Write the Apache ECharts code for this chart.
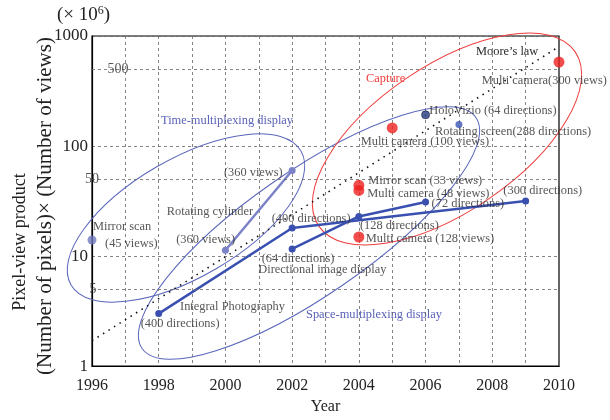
<!DOCTYPE html>
<html><head><meta charset="utf-8">
<script src="https://cdn.jsdelivr.net/npm/echarts@6/dist/echarts.min.js"></script>
<style>html,body{margin:0;padding:0;background:#fff}#c{width:610px;height:420px}</style>
</head><body><div id="c"></div>
<script>
// ---------- data ----------
const xLabelYears = [1996, 1998, 2000, 2002, 2004, 2006, 2008, 2010];
const yMajorTicks = [1, 10, 100, 1000];
const yMinorTicks = [5, 50, 500];

const ipYears = [1998, 2002, 2009];          // Integral Photography / 400 / 300 directions
const ipValues = [3, 18, 31.7];
const dirYears = [2002, 2004, 2006];         // Directional image display 64 / 128 / 72 directions
const dirValues = [11.6, 22.9, 31];
const rcYears = [2000, 2002];                // Rotating cylinder
const rcValues = [11.3, 60];
const mirrorYears = [1996];                  // Mirror scan (45 views)
const mirrorValues = [14];
const holoYears = [2006];                    // HoloVizio
const holoValues = [192];
const rsYears = [2007];                      // Rotating screen
const rsValues = [157];
const capYears = [2005, 2004, 2004, 2004, 2010];   // Capture
const capValues = [146, 44, 39.5, 14.9, 580];
const mooreYears = [1996, 2010];
const mooreValues = [1.7, 800];

// label texts per point (set, index, text)
const pointTexts = [
  ['mirror', 0, 'Mirror scan'],
  ['mirror', 0, '(45 views)'],
  ['rc', 0, 'Rotating cylinder'],
  ['rc', 0, '(360 views)'],
  ['rc', 1, '(360 views)'],
  ['ip', 1, '(400 directions)'],
  ['dir', 0, '(64 directions)'],
  ['dir', 0, 'Directional image display'],
  ['ip', 0, 'Integral Photography'],
  ['ip', 0, '(400 directions)'],
  ['dir', 1, '(128 directions)'],
  ['cap', 3, 'Multi camera (128 views)'],
  ['cap', 1, 'Mirror scan (33 views)'],
  ['cap', 2, 'Multi camera (48 views)'],
  ['dir', 2, '(72 directions)'],
  ['ip', 2, '(300 directions)'],
  ['cap', 0, 'Multi camera (100 views)'],
  ['holo', 0, 'HoloVizio (64 directions)'],
  ['rs', 0, 'Rotating screen(288 directions)'],
  ['cap', 4, 'Multi camera(300 views)']
];
// ---------- layout / style ----------
const labelPlacement = [
  [1, -13, 'left'], [13, 3.5, 'left'], [-58.7, -38.3, 'left'], [9.6, -10.6, 'right'],
  [-9.4, 2.6, 'right'], [-20.4, -9.1, 'left'], [-30.4, 9.6, 'left'], [-33.8, 20.6, 'left'],
  [21.3, -7, 'left'], [-18, 10.6, 'left'], [1.1, 9.3, 'left'], [7, 1.8, 'left'],
  [9.4, -4.2, 'left'], [8.4, 3.2, 'left'], [6, 2.2, 'left'], [-22.3, -10.1, 'left'],
  [-31.5, 14, 'left'], [3.7, -4.1, 'left'], [-23.9, 7.5, 'left'], [-77.3, 18.7, 'left']
];
const minorLabelPlacement = [[1, 0], [0, 0], [26, 0]];
const FONT = '"Liberation Serif","Times New Roman",serif';
const TXT = '#2a2a2a';
const LBL = 12.4;
const sets = {
  ip: [ipYears, ipValues], dir: [dirYears, dirValues], rc: [rcYears, rcValues],
  mirror: [mirrorYears, mirrorValues], holo: [holoYears, holoValues],
  rs: [rsYears, rsValues], cap: [capYears, capValues]
};
const pts = (xs, ys) => xs.map((x, i) => [x, ys[i]]);
const gridLine = { color: '#666', width: 0.8, type: [3, 3] };

const chart = echarts.init(document.getElementById('c'), null, { renderer: 'canvas' });

const labelData = pointTexts.map((t, k) => {
  const [set, i, text] = t;
  const [dx, dy, align] = labelPlacement[k];
  return {
    value: [sets[set][0][i], sets[set][1][i]],
    label: { show: true, formatter: text, position: 'inside', offset: [dx, dy], align: align,
      verticalAlign: 'middle', fontSize: LBL, fontFamily: FONT, color: TXT }
  };
});
const minorData = yMinorTicks.map((v, k) => ({
  value: [xLabelYears[0], v],
  label: { show: true, formatter: String(v), position: 'inside', offset: minorLabelPlacement[k],
    align: 'center', verticalAlign: 'middle', fontSize: 14, fontFamily: FONT, color: TXT }
}));

const option = {
  animation: false,
  grid: { left: 92, right: 51, top: 36, bottom: 49, show: true, borderColor: '#000', borderWidth: 1.2 },
  xAxis: {
    type: 'value', min: 1996, max: 2010, interval: 1,
    axisLine: { lineStyle: { color: '#000', width: 1.2 } },
    axisTick: { show: false },
    axisLabel: { fontSize: 16, fontFamily: FONT, color: '#222', margin: 12,
      formatter: v => xLabelYears.includes(v) ? String(v) : '', showMaxLabel: true, showMinLabel: true },
    splitLine: { show: true, lineStyle: gridLine },
    name: 'Year', nameLocation: 'middle', nameGap: 32,
    nameTextStyle: { fontSize: 16, fontFamily: FONT, color: '#222' }
  },
  yAxis: {
    type: 'log', logBase: 10, min: yMajorTicks[0], max: yMajorTicks[yMajorTicks.length - 1],
    axisLine: { show: true, lineStyle: { color: '#000', width: 1.2 } },
    axisTick: { show: false },
    axisLabel: { fontSize: 17, fontFamily: FONT, color: '#222', margin: 4, formatter: v => String(v) },
    splitLine: { show: true, lineStyle: gridLine },
    minorTick: { show: false }, minorSplitLine: { show: false }
  },
  graphic: [
    { type: 'ellipse', x: 186, y: 218, rotation: 30.2 * Math.PI / 180, shape: { cx: 0, cy: 0, rx: 133, ry: 59 },
      style: { fill: 'none', stroke: '#5a66bb', lineWidth: 1 }, silent: true, z: 1 },
    { type: 'ellipse', x: 309, y: 233, rotation: 34.7 * Math.PI / 180, shape: { cx: 0, cy: 0, rx: 203, ry: 62 },
      style: { fill: 'none', stroke: '#5a66bb', lineWidth: 1 }, silent: true, z: 1 },
    { type: 'ellipse', x: 447, y: 139, rotation: 34.2 * Math.PI / 180, shape: { cx: 0, cy: 0, rx: 155, ry: 73 },
      style: { fill: 'none', stroke: '#f03c3c', lineWidth: 1 }, silent: true, z: 1 },
    { type: 'text', left: 161, top: 115, silent: true,
      style: { text: 'Time-multiplexing display', fontSize: LBL, fontFamily: FONT, fill: '#5a62b8' } },
    { type: 'text', left: 306, top: 309, silent: true,
      style: { text: 'Space-multiplexing display', fontSize: LBL, fontFamily: FONT, fill: '#5a62b8' } },
    { type: 'text', left: 366, top: 73, silent: true,
      style: { text: 'Capture', fontSize: LBL, fontFamily: FONT, fill: '#f03c3c' } },
    { type: 'text', left: 476, top: 46, silent: true,
      style: { text: 'Moore\u2019s law', fontSize: LBL, fontFamily: FONT, fill: TXT } },
    { type: 'text', left: 57, top: 5, silent: true,
      style: { text: '{a|(\u00d7 10}{s|6}{a|)}', fontFamily: FONT, fill: '#222',
        rich: { a: { fontSize: 19, fontFamily: FONT, fill: '#222', verticalAlign: 'bottom' },
                s: { fontSize: 12, fontFamily: FONT, fill: '#222', verticalAlign: 'top', padding: [0, 0, 8, 0] } } } },
    { type: 'text', x: 20, y: 242, rotation: Math.PI / 2, silent: true,
      style: { text: 'Pixel-view product', fontSize: 18, fontFamily: FONT, fill: '#222', align: 'center', verticalAlign: 'middle' } },
    { type: 'text', x: 45, y: 206, rotation: Math.PI / 2, silent: true,
      style: { text: '(Number of pixels)\u00d7 (Number of views)', fontSize: 21, fontFamily: FONT, fill: '#222', align: 'center', verticalAlign: 'middle' } }
  ],
  series: [
    { type: 'line', name: 'Moore', data: pts(mooreYears, mooreValues), symbol: 'none', z: 2,
      lineStyle: { color: '#111', width: 1.6, type: [1.5, 5] },
      markLine: { silent: true, symbol: ['none', 'none'], label: { show: false },
        lineStyle: gridLine, data: yMinorTicks.map(v => ({ yAxis: v })) } },
    { type: 'line', name: 'ip', data: pts(ipYears, ipValues), symbol: 'circle', symbolSize: 7, z: 3,
      lineStyle: { color: '#3a50b0', width: 2.5 }, itemStyle: { color: '#3a50b0' } },
    { type: 'line', name: 'dir', data: pts(dirYears, dirValues), symbol: 'circle', symbolSize: 7, z: 3,
      lineStyle: { color: '#3a50b0', width: 2.5 }, itemStyle: { color: '#3a50b0' } },
    { type: 'line', name: 'rc', data: pts(rcYears, rcValues), symbol: 'circle', symbolSize: 7, z: 3,
      lineStyle: { color: '#7b82c8', width: 2.5 }, itemStyle: { color: '#7b82c8' } },
    { type: 'scatter', name: 'mirror', data: pts(mirrorYears, mirrorValues), symbolSize: 9, z: 3, clip: false,
      itemStyle: { color: '#7078c0' } },
    { type: 'scatter', name: 'holo', data: pts(holoYears, holoValues), symbolSize: 8, z: 3,
      itemStyle: { color: '#23397e', borderColor: '#111a44', borderWidth: 0.8 } },
    { type: 'scatter', name: 'rs', data: pts(rsYears, rsValues), symbolSize: 7, z: 3,
      itemStyle: { color: '#3a55b5' } },
    { type: 'scatter', name: 'cap', data: pts(capYears, capValues), symbolSize: 11, z: 3, clip: false,
      itemStyle: { color: '#ee2020' } },
    { type: 'scatter', name: 'labels', data: labelData, symbolSize: 1, z: 6, clip: false, silent: true,
      itemStyle: { color: 'rgba(0,0,0,0)' } },
    { type: 'scatter', name: 'minorTicks', data: minorData, symbolSize: 1, z: 6, clip: false, silent: true,
      itemStyle: { color: 'rgba(0,0,0,0)' } }
  ]
};
chart.setOption(option);
</script>
</body></html>
